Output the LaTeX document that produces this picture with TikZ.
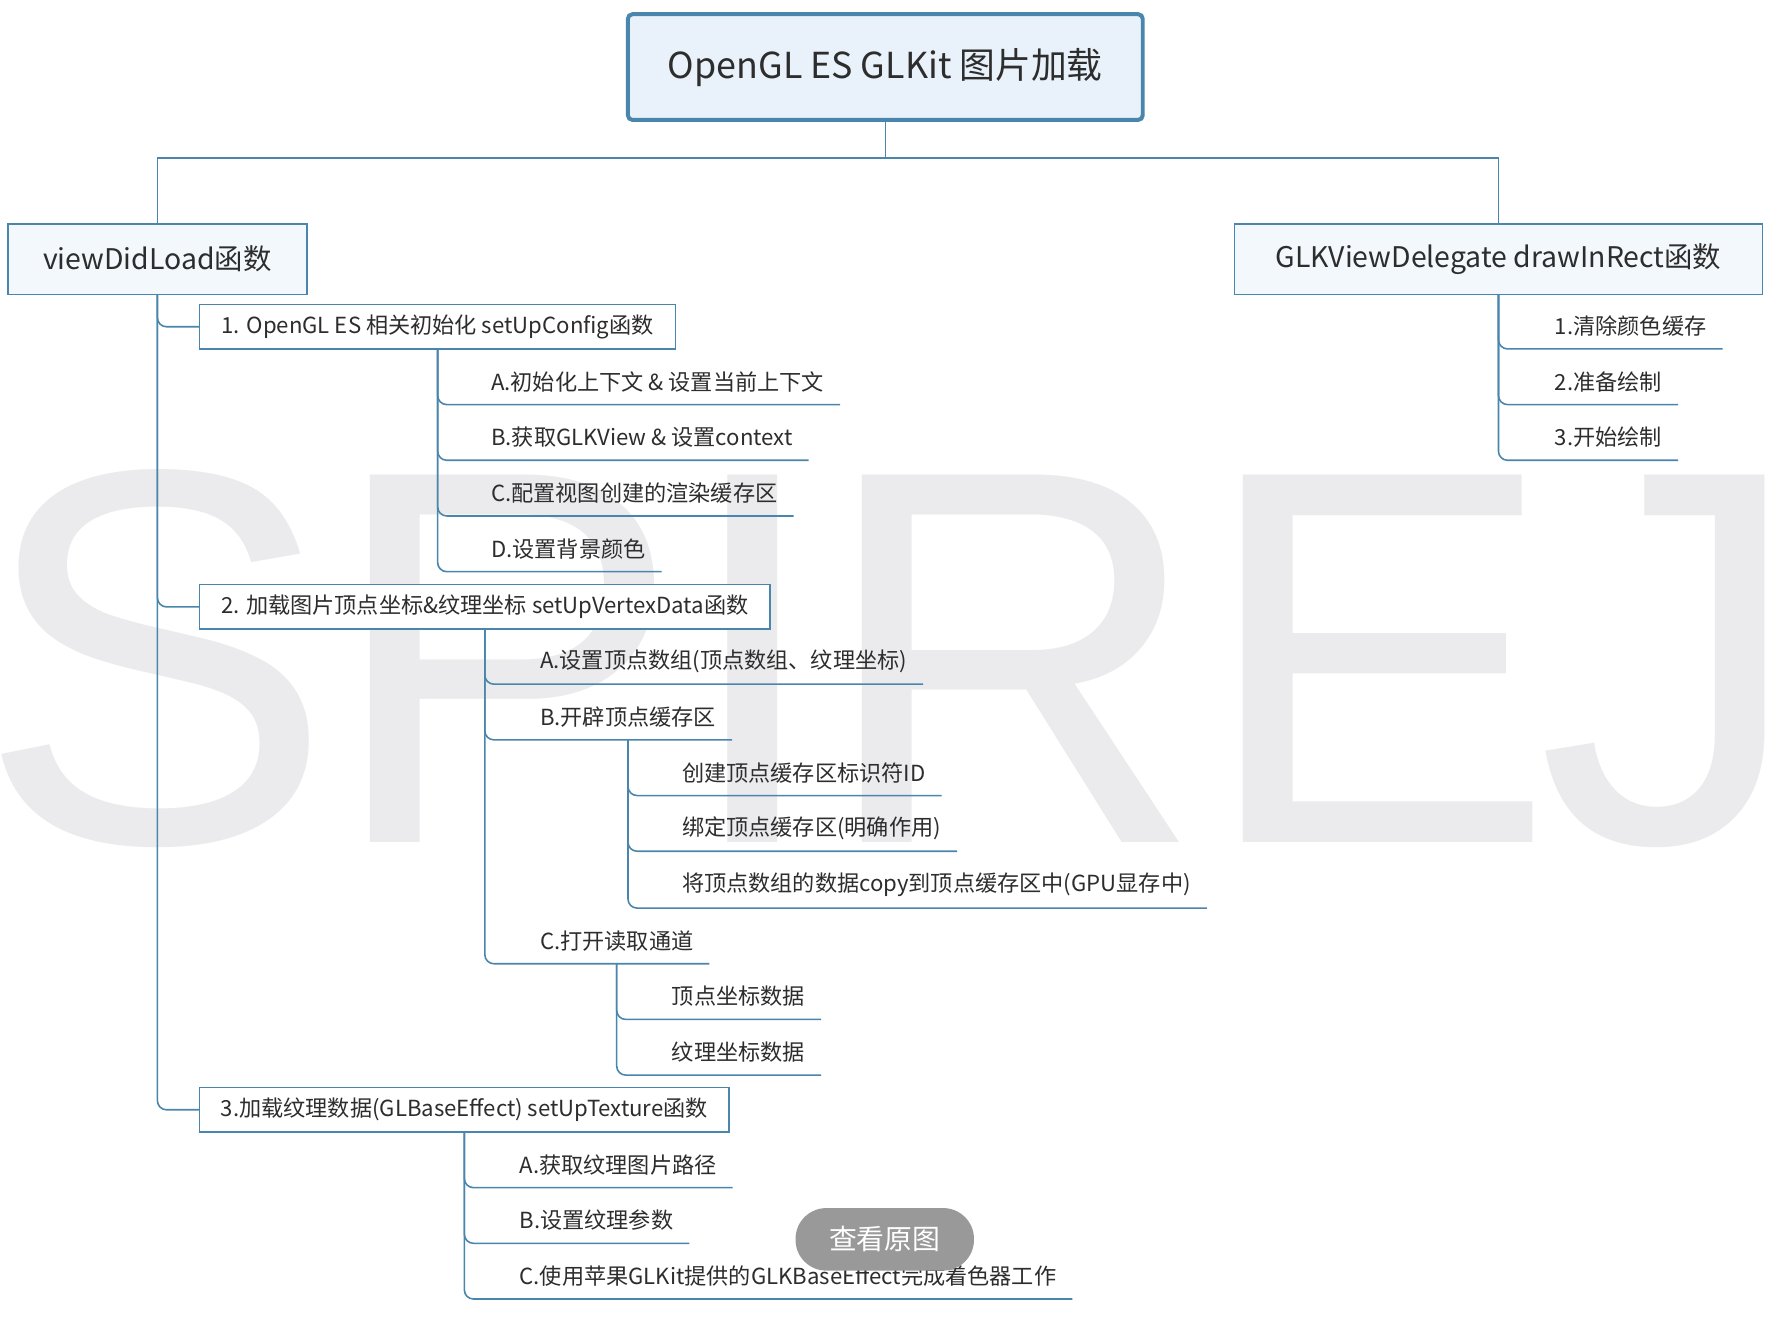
\documentclass[tikz,border=0pt]{standalone}
\usepackage{fontspec}
\setmainfont{Noto Sans CJK SC}
\newfontfamily\markfont{Liberation Sans}
\usepackage{tikz}

\definecolor{linkblue}{RGB}{74,134,172}
\definecolor{rootfill}{RGB}{233,242,251}
\definecolor{boxfill}{RGB}{242,248,252}
\definecolor{inkgray}{RGB}{45,45,45}
\definecolor{markgray}{RGB}{235,235,237}
\definecolor{pillgray}{RGB}{153,153,153}

\tikzset{
  rootbox/.style={draw=linkblue, line width=3.5pt, fill=rootfill, rounded corners=4pt,
    minimum width=453pt, minimum height=93pt, text=inkgray,
    font=\fontsize{31.5}{31.5}\selectfont},
  topbox/.style={draw=linkblue, line width=1.2pt, fill=boxfill, minimum height=62pt,
    text=inkgray, font=\fontsize{25}{25}\selectfont},
  subbox/.style={draw=linkblue, line width=1.2pt, fill=white, minimum height=39pt,
    anchor=west, text=inkgray, font=\fontsize{19.5}{19.5}\selectfont},
  leaf/.style={inner sep=0pt, minimum height=40pt, anchor=south west, text=inkgray,
    font=\fontsize{19.5}{19.5}\selectfont},
  link/.style={draw=linkblue, line width=1.2pt},
  branch/.style={link, line width=1.4pt, rounded corners=8pt},
  wmark/.style={inner sep=0pt, anchor=base, text=markgray,
    font=\markfont\fontsize{470}{470}\selectfont},
  pill/.style={fill=pillgray, rounded corners=27pt, minimum width=157pt,
    minimum height=55pt, text=white, font=\fontsize{24.5}{24.5}\selectfont}
}

\begin{document}
\begin{tikzpicture}[x=1pt, y=-1pt]
  \useasboundingbox[fill=white] (0,0) rectangle (1568,1160);

  % watermark behind everything
  \foreach \ch/\x in {S/137, P/444, I/662, R/890, E/1212, J/1470}
    \node[wmark] (w\ch) at (\x,741) {\ch};

  % root and the two functions
  \node[rootbox] (root) at (779,59) {OpenGL ES GLKit 图片加载};
  \node[topbox, minimum width=263pt] (vd) at (138.5,228) {viewDidLoad函数};
  \node[topbox, minimum width=465pt] (gd) at (1318.5,228) {GLKViewDelegate drawInRect函数};

  \coordinate (split) at (779,139);
  \draw[link] (root.south) -- (split) -| (vd.north);
  \draw[link] (split) -| (gd.north);

  % drawInRect steps
  \node[leaf] (r1) at (1368,307) {1.清除颜色缓存};
  \node[leaf] (r2) at (1368,356) {2.准备绘制};
  \node[leaf] (r3) at (1368,405) {3.开始绘制};

  % viewDidLoad: three setUp functions
  \node[subbox, minimum width=419pt] (s1) at (175,287.5) {1. OpenGL ES 相关初始化 setUpConfig函数};
  \node[subbox, minimum width=502pt] (s2) at (175,534) {2. 加载图片顶点坐标\&纹理坐标 setUpVertexData函数};
  \node[subbox, minimum width=466pt] (s3) at (175,976.5) {3.加载纹理数据(GLBaseEffect) setUpTexture函数};

  \foreach \c in {s1,s2,s3}
    \draw[branch] (vd.south) |- (\c.west);

  % setUpConfig
  \node[leaf] (a1) at (432,356) {A.初始化上下文 \& 设置当前上下文};
  \node[leaf] (a2) at (432,405) {B.获取GLKView \& 设置context};
  \node[leaf] (a3) at (432,454) {C.配置视图创建的渲染缓存区};
  \node[leaf] (a4) at (432,503) {D.设置背景颜色};

  % setUpVertexData
  \node[leaf] (b1) at (475,602) {A.设置顶点数组(顶点数组、纹理坐标)};
  \node[leaf] (b2) at (475,651) {B.开辟顶点缓存区};
  \node[leaf] (c1) at (600,700) {创建顶点缓存区标识符ID};
  \node[leaf] (c2) at (600,749) {绑定顶点缓存区(明确作用)};
  \node[leaf] (c3) at (600,799) {将顶点数组的数据copy到顶点缓存区中(GPU显存中)};
  \node[leaf] (b3) at (475,848) {C.打开读取通道};
  \node[leaf] (d1) at (591,897) {顶点坐标数据};
  \node[leaf] (d2) at (591,946) {纹理坐标数据};

  % setUpTexture
  \node[leaf] (e1) at (457,1045) {A.获取纹理图片路径};
  \node[leaf] (e2) at (457,1094) {B.设置纹理参数};
  \node[leaf] (e3) at (457,1143) {C.使用苹果GLKit提供的GLKBaseEffect完成着色器工作};

  \foreach \p/\c in {gd/r1, gd/r2, gd/r3, s1/a1, s1/a2, s1/a3, s1/a4,
      s2/b1, s2/b2, s2/b3, b2/c1, b2/c2, b2/c3, b3/d1, b3/d2,
      s3/e1, s3/e2, s3/e3}
    \draw[branch] (\p.south) |- ([xshift=14pt]\c.south east);

  % overlay button
  \node[pill] (view) at (778.5,1090.5) {查看原图};
\end{tikzpicture}
\end{document}
